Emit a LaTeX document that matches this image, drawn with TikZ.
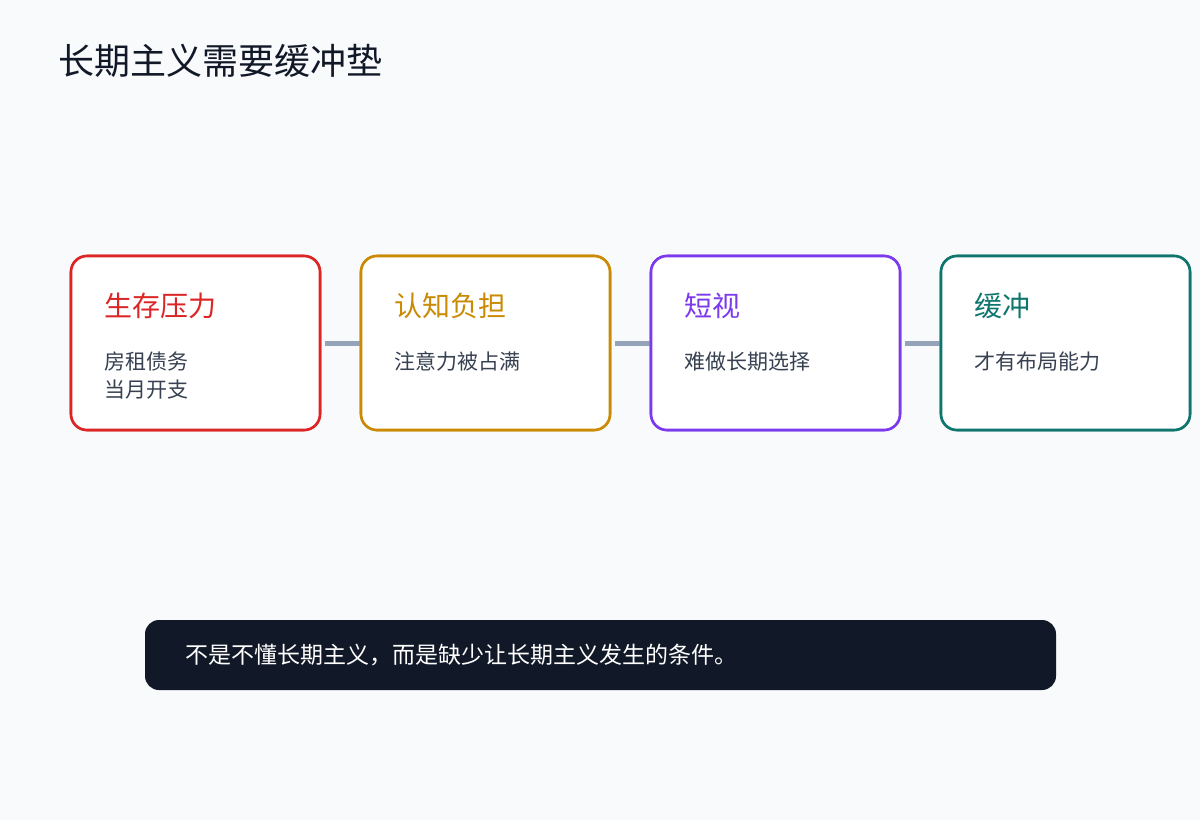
\documentclass[tikz,border=0pt]{standalone}
\usepackage{fontspec}
\setmainfont{Noto Sans CJK SC}
\definecolor{bg}{HTML}{F8FAFC}
\definecolor{ink}{HTML}{111827}
\definecolor{body}{HTML}{374151}
\definecolor{cred}{HTML}{DC2626}
\definecolor{camber}{HTML}{CA8A04}
\definecolor{cpurple}{HTML}{7C3AED}
\definecolor{cteal}{HTML}{0F766E}
\definecolor{conncol}{HTML}{94A3B8}
\tikzset{
  stagebox/.style={draw=#1, line width=2.6pt, fill=white, rounded corners=16pt,
    minimum width=249pt, minimum height=174pt, inner sep=0pt},
  stagetitle/.style={anchor=base west, inner sep=0pt, text=#1,
    font=\fontsize{28}{34}\selectfont},
  stagebody/.style={anchor=base west, inner sep=0pt, text=body,
    font=\fontsize{21}{28}\selectfont},
  conn/.style={draw=conncol, line width=5pt},
}
\begin{document}
\begin{tikzpicture}[x=1pt,y=-1pt]
\useasboundingbox (0,0) rectangle (1200,820);
\fill[bg] (0,0) rectangle (1200,820);
\node[anchor=base west, inner sep=0pt, text=ink, font=\fontsize{36}{43}\selectfont] (title) at (58.5,74) {长期主义需要缓冲垫};

\node[stagebox=cred] (b1) at (195.5,343) {};
\node[stagebox=camber] (b2) at (485.5,343) {};
\node[stagebox=cpurple] (b3) at (775.5,343) {};
\node[stagebox=cteal] (b4) at (1065.5,343) {};

\draw[conn] ([xshift=3.5pt]b1.east) -- (b2.west);
\draw[conn] ([xshift=3.5pt]b2.east) -- (b3.west);
\draw[conn] ([xshift=3.5pt]b3.east) -- (b4.west);
\node[stagebox=cred] at (b1) {};
\node[stagebox=camber] at (b2) {};
\node[stagebox=cpurple] at (b3) {};
\node[stagebox=cteal] at (b4) {};

\node[stagetitle=cred] (t1) at (104,316) {生存压力};
\node[stagebody] (d1a) at (104,369) {房租债务};
\node[stagebody] (d1b) at (104,397) {当月开支};

\node[stagetitle=camber] (t2) at (394,316) {认知负担};
\node[stagebody] (d2) at (394,369) {注意力被占满};

\node[stagetitle=cpurple] (t3) at (684,316) {短视};
\node[stagebody] (d3) at (684,369) {难做长期选择};

\node[stagetitle=cteal] (t4) at (974,316) {缓冲};
\node[stagebody] (d4) at (974,369) {才有布局能力};

\node[fill=ink, rounded corners=14pt, minimum width=911pt, minimum height=70pt, inner sep=0pt] (bar) at (600.5,655) {};
\node[anchor=base west, inner sep=0pt, text=white, font=\fontsize{23}{28}\selectfont] (note) at (185,663) {不是不懂长期主义，而是缺少让长期主义发生的条件。};
\end{tikzpicture}
\end{document}
